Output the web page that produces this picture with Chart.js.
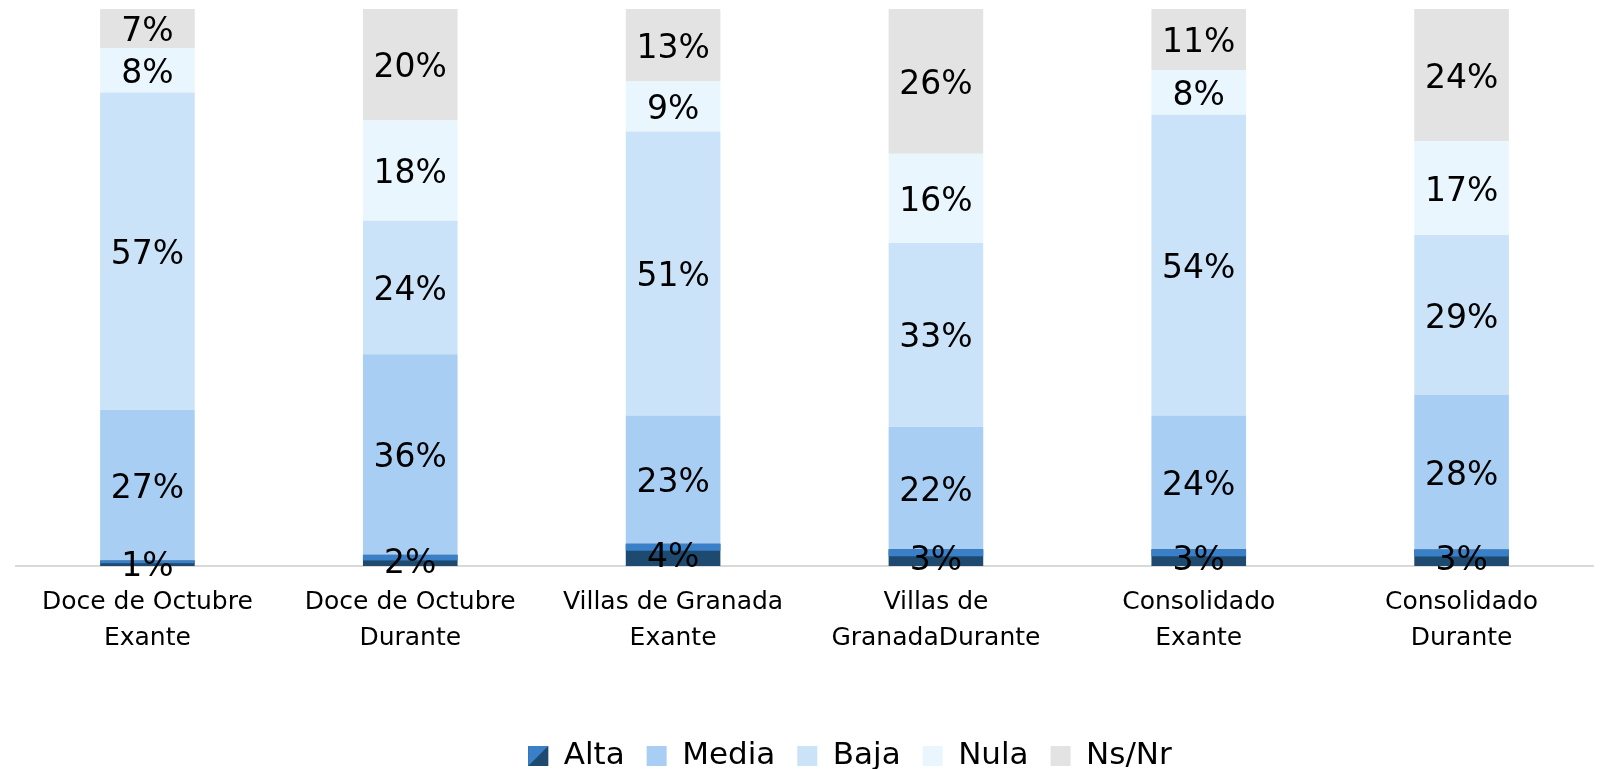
<!DOCTYPE html>
<html>
<head>
<meta charset="utf-8">
<script src="https://cdn.jsdelivr.net/npm/chart.js@4"></script>
<style>
  html, body { margin: 0; padding: 0; background: #fff; }
  #wrap { width: 1614px; height: 769px; }
</style>
</head>
<body>
<div id="wrap"><canvas id="chart" width="1614" height="769"></canvas></div>
<script>
// ================= Data =================
const categories = [
    ['Doce de Octubre', 'Exante'],
    ['Doce de Octubre', 'Durante'],
    ['Villas de Granada', 'Exante'],
    ['Villas de', 'GranadaDurante'],
    ['Consolidado', 'Exante'],
    ['Consolidado', 'Durante']
];
const alta  = [1, 2, 4, 3, 3, 3];
const media = [27, 36, 23, 22, 24, 28];
const baja  = [57, 24, 51, 33, 54, 29];
const nula  = [8, 18, 9, 16, 8, 17];
const nsnr  = [7, 20, 13, 26, 11, 24];

const seriesNames = ['Alta', 'Media', 'Baja', 'Nula', 'Ns/Nr'];
const seriesValues = [alta, media, baja, nula, nsnr];
const seriesColors = ['#1f4a70', '#a9cef3', '#cbe3f8', '#eaf6fe', '#e3e3e3'];

// 100% stacked: each column normalised to its own total
const totals = categories.map((c, i) => seriesValues.reduce((s, arr) => s + arr[i], 0));

const FONT = "'DejaVu Sans', sans-serif";
const LEGEND_SIZE = 31;
const LEGEND_PAD = 22;
const SWATCH = 20;

// ================= Plugins =================
// lighter bevel band on top of the Alta bars
const bevelPlugin = {
    id: 'bevel',
    afterDatasetDraw(chart, args) {
        if (args.index !== 0) return;
        const ctx = chart.ctx;
        args.meta.data.forEach(bar => {
            const h = bar.base - bar.y;
            const band = Math.min(7, h / 2);
            const left = bar.x - bar.width / 2;
            ctx.save();
            ctx.fillStyle = '#3a80c8';
            ctx.fillRect(left, bar.y, bar.width, band);
            ctx.restore();
        });
    }
};

// percentage labels centred in each segment
const valueLabels = {
    id: 'valueLabels',
    afterDatasetsDraw(chart) {
        const ctx = chart.ctx;
        ctx.save();
        ctx.font = `33px ${FONT}`;
        ctx.fillStyle = '#000';
        ctx.textAlign = 'center';
        ctx.textBaseline = 'middle';
        chart.data.datasets.forEach((ds, di) => {
            const meta = chart.getDatasetMeta(di);
            meta.data.forEach((bar, i) => {
                ctx.fillText(ds.raw[i] + '%', bar.x, (bar.y + bar.base) / 2 + 4);
            });
        });
        ctx.restore();
    }
};

// move the legend to where the original sits, and give Alta its split swatch
const legendPlace = {
    id: 'legendPlace',
    afterLayout(chart) {
        const lg = chart.legend;
        const dy = 750 - (lg.top + lg.height / 2);
        const dx = 850 - (lg.left + lg.right) / 2;
        lg.top += dy; lg.bottom += dy;
        lg.left += dx; lg.right += dx;
        (lg.legendHitBoxes || []).forEach(b => { b.left += dx; b.top += dy; });
    },
    afterDraw(chart) {
        const lg = chart.legend;
        const hb = lg.legendHitBoxes && lg.legendHitBoxes[0];
        if (!hb) return;
        const s = SWATCH;
        const x = hb.left;
        const y = lg.top + LEGEND_PAD + Math.max((LEGEND_SIZE - s) / 2, 0);
        const ctx = chart.ctx;
        ctx.save();
        ctx.fillStyle = '#1f4a70';
        ctx.fillRect(x, y, s, s);
        ctx.fillStyle = '#3a80c8';
        ctx.beginPath();
        ctx.moveTo(x, y); ctx.lineTo(x + s, y); ctx.lineTo(x, y + s);
        ctx.closePath();
        ctx.fill();
        ctx.restore();
    }
};

// ================= Chart =================
const datasets = seriesNames.map((name, si) => ({
    label: name,
    raw: seriesValues[si],
    data: seriesValues[si].map((v, i) => v / totals[i] * 100),
    backgroundColor: seriesColors[si],
    borderWidth: 0,
    categoryPercentage: 1,
    barPercentage: 0.36
}));

new Chart(document.getElementById('chart').getContext('2d'), {
    type: 'bar',
    data: { labels: categories, datasets: datasets },
    options: {
        responsive: false,
        animation: false,
        layout: { padding: { top: 9, left: 16, right: 21, bottom: 0 } },
        plugins: {
            tooltip: { enabled: false },
            legend: {
                position: 'bottom',
                labels: {
                    color: '#000',
                    font: { family: FONT, size: LEGEND_SIZE },
                    boxWidth: SWATCH,
                    boxHeight: SWATCH,
                    padding: LEGEND_PAD
                }
            }
        },
        scales: {
            x: {
                stacked: true,
                grid: { display: false },
                border: { display: true, color: '#d9d9d9', width: 2 },
                ticks: {
                    color: '#000',
                    font: { family: FONT, size: 25, lineHeight: 1.44 },
                    maxRotation: 0,
                    autoSkip: false,
                    padding: 10
                },
                afterFit: s => { s.height = 140; }
            },
            y: {
                stacked: true,
                display: false,
                min: 0,
                max: 100
            }
        }
    },
    plugins: [bevelPlugin, valueLabels, legendPlace]
});
</script>
</body>
</html>
